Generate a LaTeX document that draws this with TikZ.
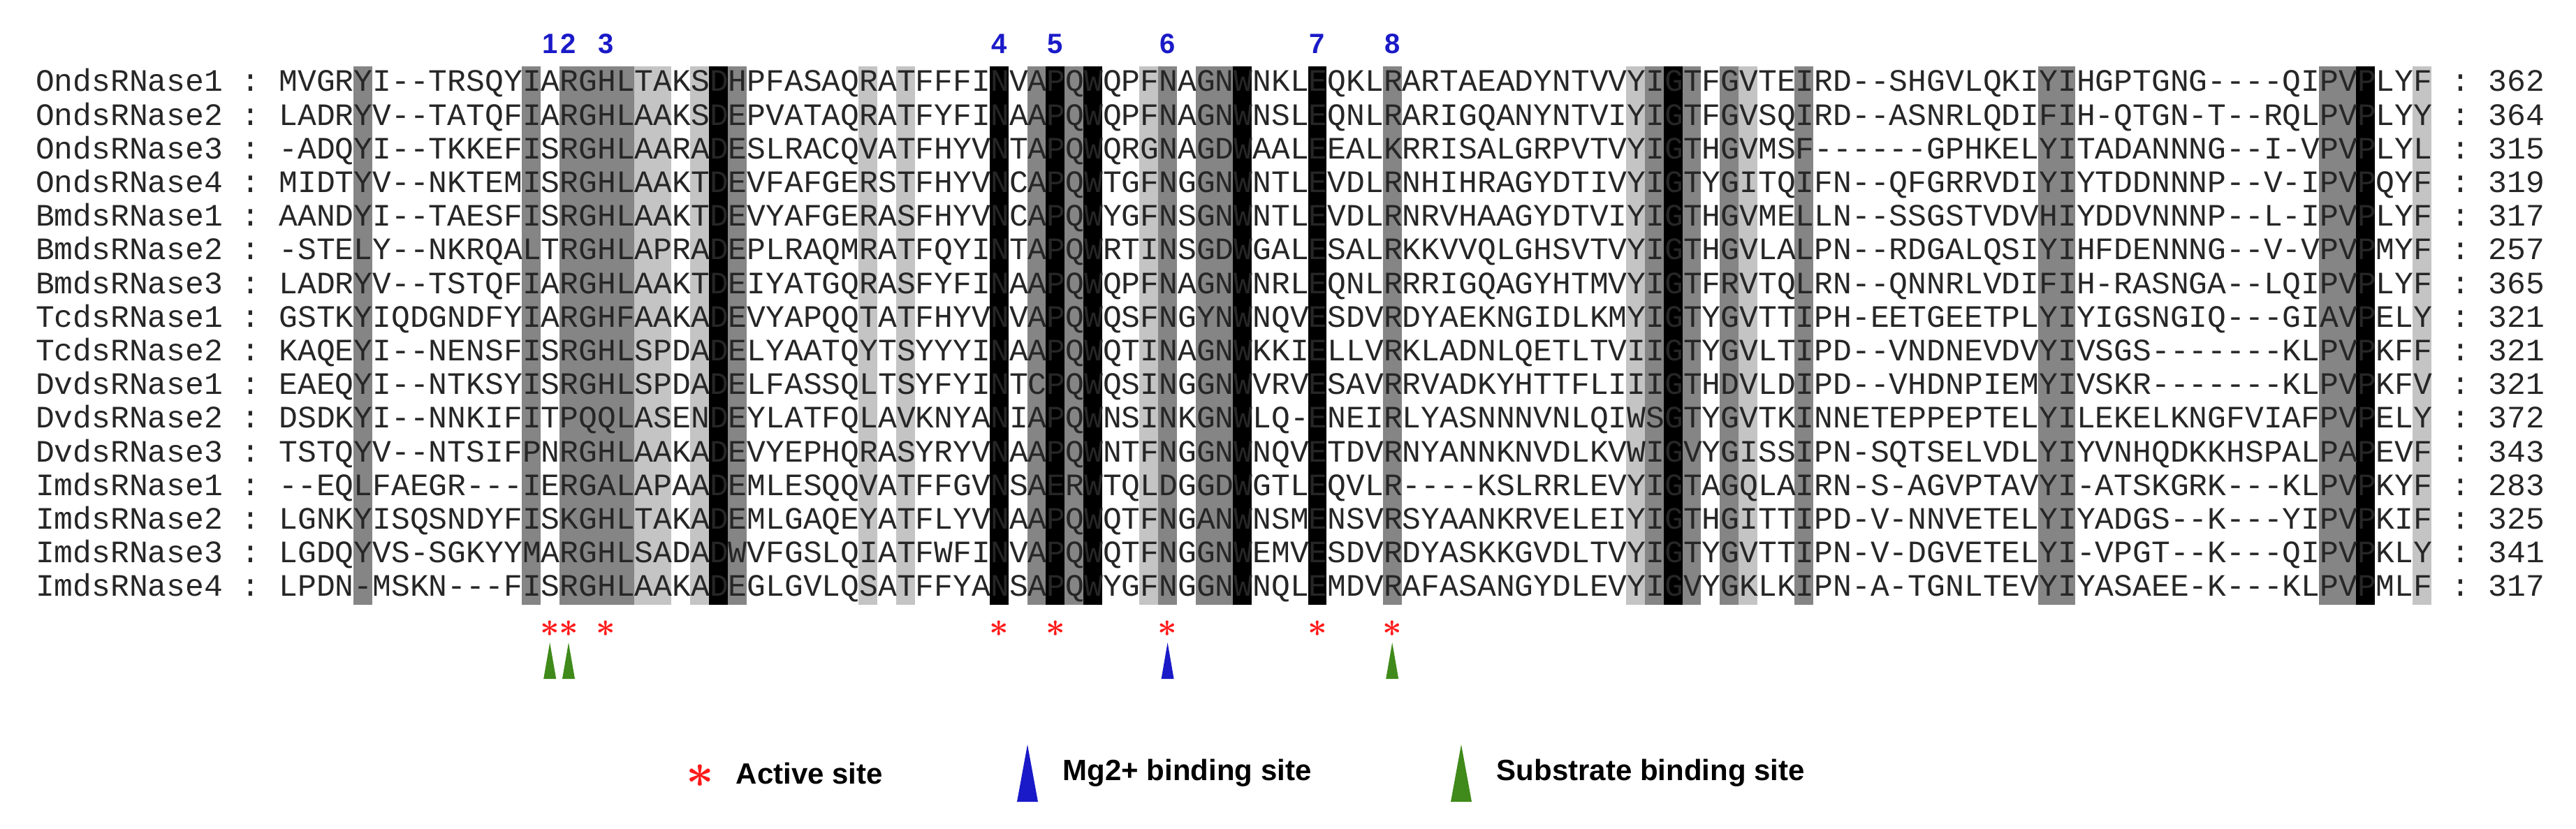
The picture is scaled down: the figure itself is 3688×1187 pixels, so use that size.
\documentclass[tikz,border=0pt]{standalone}
\usepackage{fontspec}
\setmainfont{Liberation Sans}
\setmonofont{Liberation Mono}
\definecolor{siteRed}{HTML}{FF1A1A}
\definecolor{siteBlue}{HTML}{1A1AC8}
\definecolor{siteGreen}{HTML}{3F8A1A}
\definecolor{shadeDark}{HTML}{858585}
\definecolor{shadeLight}{HTML}{C4C4C4}
\newcommand{\colx}[1]{412+#1*26.8}

\begin{document}
\begin{tikzpicture}[x=0.25pt,y=-0.25pt,
    seqrow/.style={anchor=west,inner sep=0pt,text=black!85,
      font=\ttfamily\fontsize{11.17}{12}\selectfont},
    posnum/.style={text=siteBlue,inner sep=0pt,
      font=\bfseries\fontsize{10}{10}\selectfont},
    astk/.style={text=siteRed,inner sep=0pt,
      font=\fontsize{13}{13}\selectfont\boldmath},
    legtext/.style={anchor=west,inner sep=0pt,
      font=\bfseries\fontsize{10.5}{11}\selectfont}]

  \useasboundingbox (0,0) rectangle (3688,1187);

  % column shading
  \foreach \c in {4,13,15,16,17,18,24,40,42,47,49,50,59,73,75,77,81,94,95,109,110}
    \fill[shadeDark] ({\colx{\c}-13.4},95) rectangle ++(26.8,771);
  \foreach \c in {19,20,22,31,33,46,72,78,114}
    \fill[shadeLight] ({\colx{\c}-13.4},95) rectangle ++(26.8,771);
  \foreach \c in {23,38,41,43,51,55,74,111}
    \fill[black] ({\colx{\c}-13.4},95) rectangle ++(26.8,771);

  % alignment rows
  \foreach \name/\seq/\len [count=\i] in {
    OndsRNase1/MVGRYI--TRSQYIARGHLTAKSDHPFASAQRATFFFINVAPQWQPFNAGNWNKLEQKLRARTAEADYNTVVYIGTFGVTEIRD--SHGVLQKIYIHGPTGNG----QIPVPLYF/362,
    OndsRNase2/LADRYV--TATQFIARGHLAAKSDEPVATAQRATFYFINAAPQWQPFNAGNWNSLEQNLRARIGQANYNTVIYIGTFGVSQIRD--ASNRLQDIFIH-QTGN-T--RQLPVPLYY/364,
    OndsRNase3/-ADQYI--TKKEFISRGHLAARADESLRACQVATFHYVNTAPQWQRGNAGDWAALEEALKRRISALGRPVTVYIGTHGVMSF------GPHKELYITADANNNG--I-VPVPLYL/315,
    OndsRNase4/MIDTYV--NKTEMISRGHLAAKTDEVFAFGERSTFHYVNCAPQWTGFNGGNWNTLEVDLRNHIHRAGYDTIVYIGTYGITQIFN--QFGRRVDIYIYTDDNNNP--V-IPVPQYF/319,
    BmdsRNase1/AANDYI--TAESFISRGHLAAKTDEVYAFGERASFHYVNCAPQWYGFNSGNWNTLEVDLRNRVHAAGYDTVIYIGTHGVMELLN--SSGSTVDVHIYDDVNNNP--L-IPVPLYF/317,
    BmdsRNase2/-STELY--NKRQALTRGHLAPRADEPLRAQMRATFQYINTAPQWRTINSGDWGALESALRKKVVQLGHSVTVYIGTHGVLALPN--RDGALQSIYIHFDENNNG--V-VPVPMYF/257,
    BmdsRNase3/LADRYV--TSTQFIARGHLAAKTDEIYATGQRASFYFINAAPQWQPFNAGNWNRLEQNLRRRIGQAGYHTMVYIGTFRVTQLRN--QNNRLVDIFIH-RASNGA--LQIPVPLYF/365,
    TcdsRNase1/GSTKYIQDGNDFYIARGHFAAKADEVYAPQQTATFHYVNVAPQWQSFNGYNWNQVESDVRDYAEKNGIDLKMYIGTYGVTTIPH-EETGEETPLYIYIGSNGIQ---GIAVPELY/321,
    TcdsRNase2/KAQEYI--NENSFISRGHLSPDADELYAATQYTSYYYINAAPQWQTINAGNWKKIELLVRKLADNLQETLTVIIGTYGVLTIPD--VNDNEVDVYIVSGS-------KLPVPKFF/321,
    DvdsRNase1/EAEQYI--NTKSYISRGHLSPDADELFASSQLTSYFYINTCPQWQSINGGNWVRVESAVRRVADKYHTTFLIIIGTHDVLDIPD--VHDNPIEMYIVSKR-------KLPVPKFV/321,
    DvdsRNase2/DSDKYI--NNKIFITPQQLASENDEYLATFQLAVKNYANIAPQWNSINKGNWLQ-ENEIRLYASNNNVNLQIWSGTYGVTKINNETEPPEPTELYILEKELKNGFVIAFPVPELY/372,
    DvdsRNase3/TSTQYV--NTSIFPNRGHLAAKADEVYEPHQRASYRYVNAAPQWNTFNGGNWNQVETDVRNYANNKNVDLKVWIGVYGISSIPN-SQTSELVDLYIYVNHQDKKHSPALPAPEVF/343,
    ImdsRNase1/--EQLFAEGR---IERGALAPAADEMLESQQVATFFGVNSAERWTQLDGGDWGTLEQVLR----KSLRRLEVYIGTAGQLAIRN-S-AGVPTAVYI-ATSKGRK---KLPVPKYF/283,
    ImdsRNase2/LGNKYISQSNDYFISKGHLTAKADEMLGAQEYATFLYVNAAPQWQTFNGANWNSMENSVRSYAANKRVELEIYIGTHGITTIPD-V-NNVETELYIYADGS--K---YIPVPKIF/325,
    ImdsRNase3/LGDQYVS-SGKYYMARGHLSADADWVFGSLQIATFWFINVAPQWQTFNGGNWEMVESDVRDYASKKGVDLTVYIGTYGVTTIPN-V-DGVETELYI-VPGT--K---QIPVPKLY/341,
    ImdsRNase4/LPDN-MSKN---FISRGHLAAKADEGLGVLQSATFFYANSAPQWYGFNGGNWNQLEMDVRAFASANGYDLEVYIGVYGKLKIPN-A-TGNLTEVYIYASAEE-K---KLPVPMLF/317}
    \node[seqrow] (row\i) at (50.2,{119+48.2*(\i-1)}) {\name{} : \seq{} : \len};

  % residue numbers
  \foreach \c/\t in {14/1,15/2,17/3,38/4,41/5,47/6,55/7,59/8}
    \node[posnum] (num\t) at ({\colx{\c}},63) {\t};

  % active sites
  \foreach \c [count=\k] in {14,15,17,38,41,47,55,59}
    \node[astk] (act\k) at ({\colx{\c}},900) {$\ast$};

  % binding sites
  \foreach \c/\col [count=\k] in {14/siteGreen,15/siteGreen,47/siteBlue,59/siteGreen}{
    \coordinate (bind\k) at ({\colx{\c}},972);
    \fill[\col] (bind\k) ++(-9,0) -- ++(9,-52) -- ++(9,52) -- cycle;
  }

  % legend
  \node[astk,font=\fontsize{17}{17}\selectfont\boldmath] (legAct) at (1002,1111) {$\ast$};
  \node[legtext] (legActT) at (1053,1107) {Active site};
  \coordinate (legMg) at (1471,1148);
  \fill[siteBlue] (legMg) ++(-15,0) -- ++(15,-82) -- ++(15,82) -- cycle;
  \node[legtext] (legMgT) at (1521,1107) {Mg2+ binding site};
  \coordinate (legSub) at (2092,1148);
  \fill[siteGreen] (legSub) ++(-15,0) -- ++(15,-82) -- ++(15,82) -- cycle;
  \node[legtext] (legSubT) at (2142,1107) {Substrate binding site};

\end{tikzpicture}
\end{document}
